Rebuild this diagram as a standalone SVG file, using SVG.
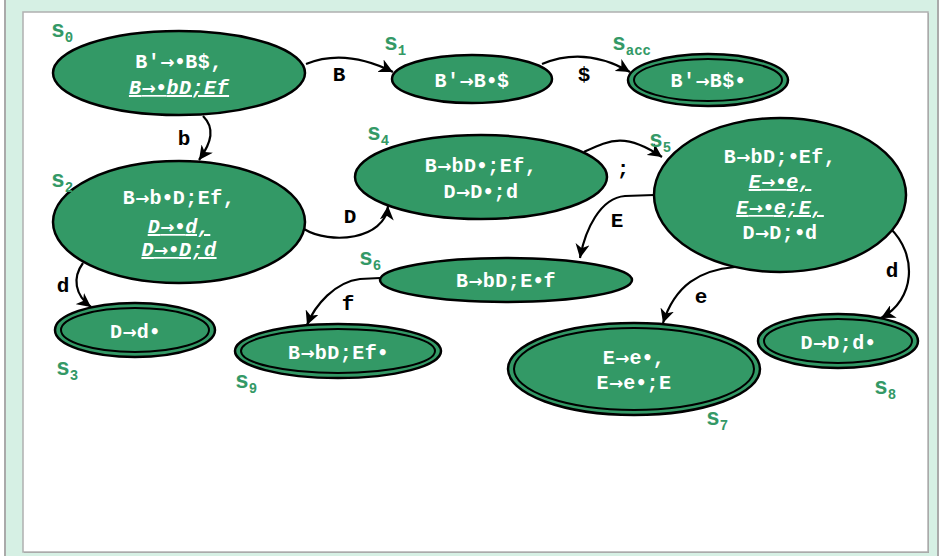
<svg xmlns="http://www.w3.org/2000/svg" width="940" height="556" viewBox="0 0 940 556">
<defs>
<marker id="ah" markerUnits="userSpaceOnUse" markerWidth="16" markerHeight="14" refX="14" refY="7" orient="auto">
<path d="M0,0 L14,7 L0,14 L4,7 Z" fill="#000"/>
</marker>
</defs>
<style>
.st{fill:#339966;stroke:#000;stroke-width:2.5}
.in{fill:#339966;stroke:#000;stroke-width:2}
.t{font-family:"Liberation Mono","Courier New",monospace;font-weight:bold;font-size:20px;fill:#fff;text-anchor:middle;letter-spacing:0.5px}
.a{font-family:"DejaVu Sans",sans-serif;font-weight:bold;font-style:normal;font-size:17px;letter-spacing:0}
.u{font-style:italic;text-decoration:underline}
.lb{font-family:"Liberation Mono","Courier New",monospace;font-weight:bold;font-size:23px;fill:#339966}
.sb{font-size:14px}
.e{fill:none;stroke:#000;stroke-width:2.2;marker-end:url(#ah)}
.el{font-family:"Liberation Mono","Courier New",monospace;font-weight:bold;font-size:21px;fill:#000;text-anchor:middle}
</style>
<rect x="5" y="-10" width="933" height="580" fill="#d6f0e4" stroke="#aaaaaa" stroke-width="2"/>
<rect x="24" y="13" width="905" height="540" fill="#999"/>
<rect x="23" y="12" width="905" height="540" fill="#fff" stroke="#b0b0b0" stroke-width="1.5"/>

<g id="connectors">
<path class="e" d="M306,64 Q345,48 393,72"/>
<text class="el" x="339" y="81">B</text>
<path class="e" d="M542,64 Q585,46 630,72"/>
<text class="el" x="584" y="81">$</text>
<path class="e" d="M203,116 C215,128 212,142 199,160"/>
<text class="el" x="184" y="145">b</text>
<path class="e" d="M83,263 C72,278 75,295 91,307"/>
<text class="el" x="63" y="292">d</text>
<path class="e" d="M304,229 C330,245 385,240 388,206"/>
<text class="el" x="350" y="223">D</text>
<path class="e" d="M584,152 C610,140 625,132 662,157"/>
<text class="el" x="623" y="175">;</text>
<path class="e" d="M654,195 L625,196 C600,198 585,230 580,258"/>
<text class="el" x="617" y="227">E</text>
<path class="e" d="M380,278 L360,279 C335,282 315,305 307,325"/>
<text class="el" x="348" y="310">f</text>
<path class="e" d="M735,267 C700,270 675,285 663,323"/>
<text class="el" x="701" y="303">e</text>
<path class="e" d="M890,228 C918,255 915,300 881,318"/>
<text class="el" x="892" y="277">d</text>
</g>

<g id="s0">
<ellipse class="st" cx="179" cy="73" rx="126" ry="42"/>
<text class="t" x="179" y="68">B′<tspan class="a">→•</tspan>B$,</text>
<text class="t u" x="179" y="94">B<tspan class="a">→•</tspan>bD;Ef</text>
<text class="lb" x="51" y="37">s<tspan class="sb" dy="5">0</tspan></text>
</g>
<g id="s1">
<ellipse class="st" cx="472" cy="79" rx="80" ry="24"/>
<text class="t" x="472" y="87">B′<tspan class="a">→</tspan>B<tspan class="a">•</tspan>$</text>
<text class="lb" x="384" y="50">s<tspan class="sb" dy="5">1</tspan></text>
</g>
<g id="sacc">
<ellipse class="st" cx="708" cy="80" rx="80" ry="26"/>
<ellipse class="in" cx="708" cy="80" rx="74" ry="21"/>
<text class="t" x="708" y="87">B′<tspan class="a">→</tspan>B$<tspan class="a">•</tspan></text>
<text class="lb" x="612" y="50">s<tspan class="sb" dy="5">acc</tspan></text>
</g>
<g id="s2">
<ellipse class="st" cx="179" cy="222" rx="126" ry="61"/>
<text class="t" x="179" y="204">B<tspan class="a">→</tspan>b<tspan class="a">•</tspan>D;Ef,</text>
<text class="t u" x="179" y="233">D<tspan class="a">→•</tspan>d,</text>
<text class="t u" x="179" y="256">D<tspan class="a">→•</tspan>D;d</text>
<text class="lb" x="51" y="187">s<tspan class="sb" dy="5">2</tspan></text>
</g>
<g id="s3">
<ellipse class="st" cx="135" cy="330" rx="80" ry="27"/>
<ellipse class="in" cx="135" cy="330" rx="74" ry="22"/>
<text class="t" x="135" y="338">D<tspan class="a">→</tspan>d<tspan class="a">•</tspan></text>
<text class="lb" x="56" y="375">s<tspan class="sb" dy="5">3</tspan></text>
</g>
<g id="s4">
<ellipse class="st" cx="481" cy="177" rx="126" ry="42"/>
<text class="t" x="481" y="172">B<tspan class="a">→</tspan>bD<tspan class="a">•</tspan>;Ef,</text>
<text class="t" x="481" y="198">D<tspan class="a">→</tspan>D<tspan class="a">•</tspan>;d</text>
<text class="lb" x="367" y="140">s<tspan class="sb" dy="5">4</tspan></text>
</g>
<g id="s5">
<ellipse class="st" cx="780" cy="195" rx="126" ry="77"/>
<text class="t" x="780" y="163">B<tspan class="a">→</tspan>bD;<tspan class="a">•</tspan>Ef,</text>
<text class="t u" x="780" y="188">E<tspan class="a">→•</tspan>e,</text>
<text class="t u" x="780" y="214">E<tspan class="a">→•</tspan>e;E,</text>
<text class="t" x="780" y="239">D<tspan class="a">→</tspan>D;<tspan class="a">•</tspan>d</text>
<text class="lb" x="649" y="147">s<tspan class="sb" dy="5">5</tspan></text>
</g>
<g id="s6">
<ellipse class="st" cx="506" cy="280" rx="126" ry="22"/>
<text class="t" x="506" y="287">B<tspan class="a">→</tspan>bD;E<tspan class="a">•</tspan>f</text>
<text class="lb" x="359" y="265">s<tspan class="sb" dy="5">6</tspan></text>
</g>
<g id="s7">
<ellipse class="st" cx="634" cy="369" rx="126" ry="46"/>
<ellipse class="in" cx="634" cy="369" rx="120" ry="41"/>
<text class="t" x="634" y="364">E<tspan class="a">→</tspan>e<tspan class="a">•</tspan>,</text>
<text class="t" x="634" y="389">E<tspan class="a">→</tspan>e<tspan class="a">•</tspan>;E</text>
<text class="lb" x="706" y="425">s<tspan class="sb" dy="5">7</tspan></text>
</g>
<g id="s8">
<ellipse class="st" cx="838" cy="341" rx="80" ry="27"/>
<ellipse class="in" cx="838" cy="341" rx="74" ry="22"/>
<text class="t" x="838" y="349">D<tspan class="a">→</tspan>D;d<tspan class="a">•</tspan></text>
<text class="lb" x="874" y="394">s<tspan class="sb" dy="5">8</tspan></text>
</g>
<g id="s9">
<ellipse class="st" cx="338" cy="351" rx="103" ry="27"/>
<ellipse class="in" cx="338" cy="351" rx="97" ry="22"/>
<text class="t" x="338" y="359">B<tspan class="a">→</tspan>bD;Ef<tspan class="a">•</tspan></text>
<text class="lb" x="235" y="388">s<tspan class="sb" dy="5">9</tspan></text>
</g>
</svg>
